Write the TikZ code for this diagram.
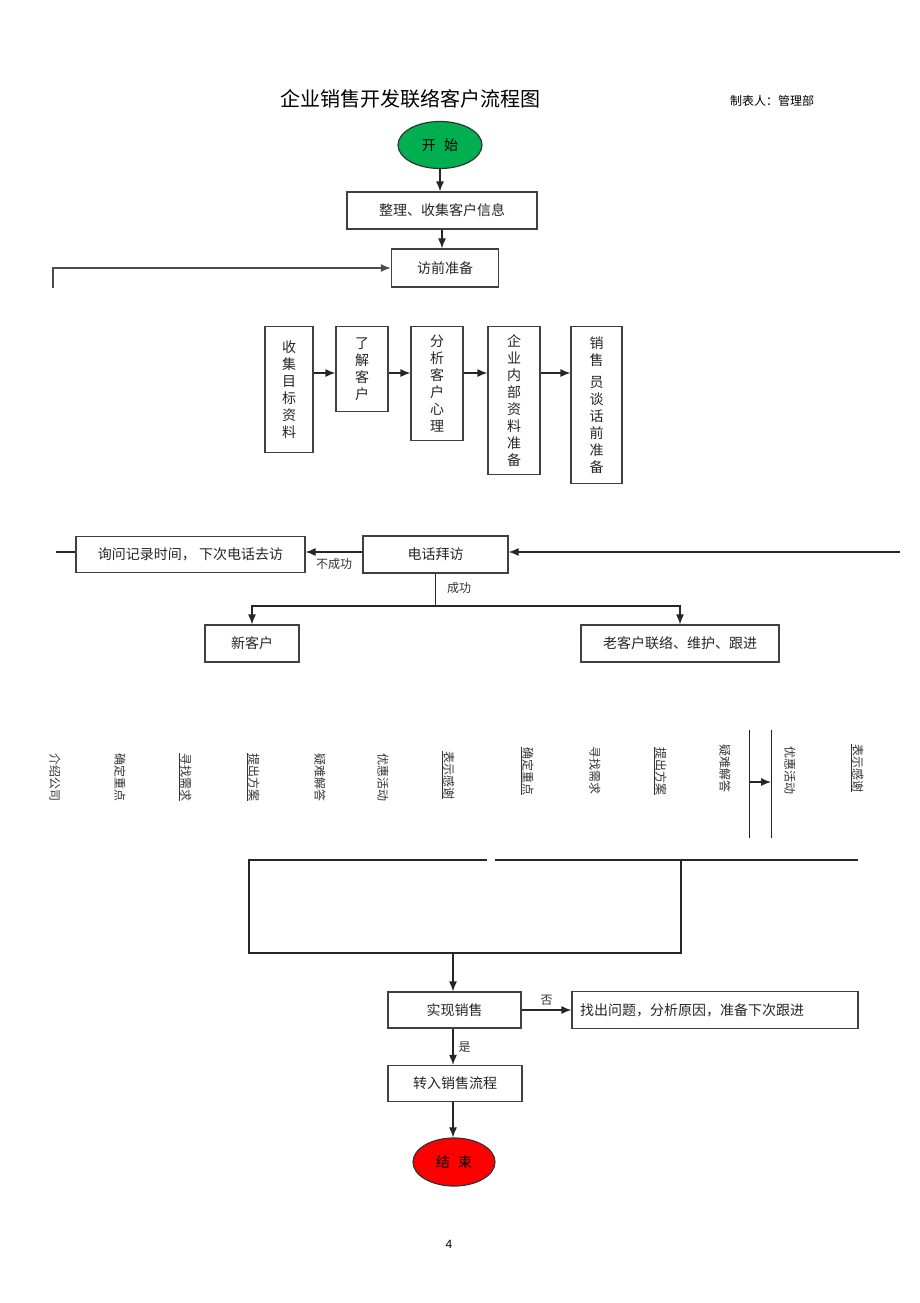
\documentclass[tikz,border=0pt]{standalone}
\usepackage{fontspec}
\setmainfont{Noto Sans CJK SC}
\newfontfamily\numfont{Liberation Sans}
\usepackage{tikz}
\usetikzlibrary{positioning, arrows.meta, calc, shapes.geometric}

\definecolor{startgreen}{RGB}{0,176,80}
\definecolor{stopred}{RGB}{255,0,0}

\tikzset{
    box/.style={draw=black!75, line width=1.2pt, fill=white, inner sep=2pt,
        text=black!85, font=\fontsize{14}{17}\selectfont},
    vbox/.style={box, anchor=north, align=center},
    oval/.style={ellipse, draw=black!80, line width=1.2pt, inner sep=0pt,
        font=\fontsize{14}{17}\selectfont},
    flow/.style={black!85, line width=1.2pt, -{Latex[length=10pt, width=8pt]}},
    tag/.style={text=black!80, inner sep=1pt, font=\fontsize{12}{14}\selectfont},
    vtag/.style={tag, rotate=-90, anchor=west},
}

\begin{document}
\begin{tikzpicture}[x=1pt, y=-1pt]
    \useasboundingbox (0,0) rectangle (920,1303);

    % title
    \node[font=\fontsize{20}{24}\selectfont] (title) at (410,99) {企业销售开发联络客户流程图};
    \node[tag, text=black] (maker) at (772,101) {制表人：管理部};

    % start, info, preparation
    \node[oval, fill=startgreen, minimum width=84, minimum height=47] (start) at (440,145) {开\hspace{0.6em}始};
    \node[box, minimum width=190, minimum height=37] (info) at (442,210.5) {整理、收集客户信息};
    \node[box, minimum width=107, minimum height=38] (prep) at (445,268) {访前准备};

    \draw[flow] (start.south) -- (start.south |- info.north);
    \draw[flow] (info.south) -- (info.south |- prep.north);

    % loop back into preparation
    \coordinate (back) at (53,288);
    \draw[flow, black!70, line width=1.6pt] (back) |- (prep.west);

    % preparation steps
    \foreach \name/\cx/\w/\h/\txt in {
        stepA/289/48/126/{收\\集\\目\\标\\资\\料},
        stepB/362/52/85/{了\\解\\客\\户},
        stepC/437/52/114/{分\\析\\客\\户\\心\\理},
        stepD/514/52/148/{企\\业\\内\\部\\资\\料\\准\\备},
        stepE/596.5/51/157/{销\\售\\[5pt]员\\谈\\话\\前\\准\\备}}
    {
        \node[vbox, minimum width=\w, minimum height=\h] (\name) at (\cx,326) {\txt};
    }

    \foreach \a/\b in {stepA/stepB, stepB/stepC, stepC/stepD, stepD/stepE}
    {
        \draw[flow] (\a.north east |- 0,373) -- (\b.north west |- 0,373);
    }

    % phone call
    \node[box, minimum width=229, minimum height=36] (ask) at (190.5,554.5) {询问记录时间，~下次电话去访};
    \node[box, minimum width=145, minimum height=37] (call) at (435.5,554.5) {电话拜访};
    \node[box, minimum width=94, minimum height=37] (newc) at (252,643.5) {新客户};
    \node[box, minimum width=198, minimum height=37] (oldc) at (680,643.5) {老客户联络、维护、跟进};

    \coordinate (incoming) at (900,552);
    \coordinate (askout) at (56,552);
    \coordinate (split) at (435.5,606);

    \draw[flow] (incoming) -- (call.east |- incoming);
    \draw[flow] (call.west |- incoming) -- (ask.east |- incoming);
    \node[tag] (fail) at (334,564) {不成功};
    \draw[black!85, line width=1.2pt] (ask.west |- askout) -- (askout);

    \draw[black!85, line width=1.2pt] (call.south) -- (split);
    \draw[flow] (split) -| (newc.north);
    \draw[flow] (split) -| (oldc.north);
    \node[tag] (ok) at (459,588) {成功};

    % talking points
    \foreach \x/\y/\t [count=\i] in {
        55/752/介绍公司,
        120/752/确定重点,
        185/752/\underline{寻找需求},
        253/752/\underline{提出方案},
        320/752/疑难解答,
        383/752/优惠活动,
        448/750/\underline{表示感谢},
        527/746/\underline{确定重点},
        595/745/寻找需求,
        660/746/\underline{提出方案},
        725/743/疑难解答,
        790/745/优惠活动,
        857/743/\underline{表示感谢}}
    {
        \node[vtag] (point\i) at (\x,\y) {\t};
    }

    % bracket between answers and offers
    \coordinate (bkL) at (749,782);
    \coordinate (bkR) at (771,782);
    \draw[black!85, line width=1pt] (749,730) -- (749,838);
    \draw[black!85, line width=1pt] (771,730) -- (771,838);
    \draw[flow] (bkL) -- (bkR);

    % gathering frame
    \draw[black!85, line width=1.2pt] (487,860) -- (249,860) -- (249,953) -- (681,953) -- (681,860);
    \draw[black!85, line width=1.2pt] (495,860) -- (858,860);
    \coordinate (gather) at (453,953);

    % result
    \node[box, minimum width=133, minimum height=36] (done) at (454.5,1010) {实现销售};
    \node[box, minimum width=286, minimum height=37, text width=270, align=left] (fix) at (715,1010) {找出问题，分析原因，准备下次跟进};
    \node[box, minimum width=134, minimum height=36] (move) at (455,1083.5) {转入销售流程};
    \node[oval, fill=stopred, minimum width=82, minimum height=48] (stop) at (454,1162) {结\hspace{0.6em}束};

    \draw[flow] (gather) -- (gather |- done.north);
    \draw[flow] (done.east) -- node[tag, above=3pt] {否} (fix.west);
    \draw[flow] (gather |- done.south) -- node[tag, right=4pt] {是} (gather |- move.north);
    \draw[flow] (gather |- move.south) -- (gather |- stop.north);

    % page number
    \node[font=\numfont\fontsize{12}{14}\selectfont] (page) at (449,1244) {4};
\end{tikzpicture}
\end{document}
